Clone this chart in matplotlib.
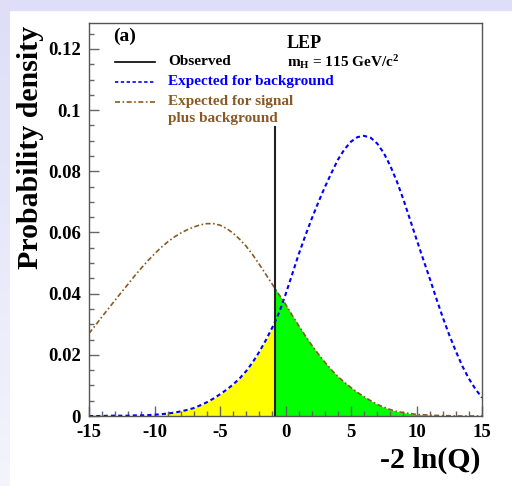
import matplotlib
matplotlib.use("Agg")
import matplotlib.pyplot as plt
from matplotlib.patches import Rectangle
import numpy as np

# -2 ln(Q) sample points, half-unit steps (observed value -0.8 included so the fills meet)
x_vals = [-15, -14.5, -14, -13.5, -13, -12.5, -12, -11.5, -11, -10.5,
          -10, -9.5, -9, -8.5, -8, -7.5, -7, -6.5, -6, -5.5,
          -5, -4.5, -4, -3.5, -3, -2.5, -2, -1.5, -1, -0.8, -0.5,
          0, 0.5, 1, 1.5, 2, 2.5, 3, 3.5, 4, 4.5,
          5, 5.5, 6, 6.5, 7, 7.5, 8, 8.5, 9, 9.5,
          10, 10.5, 11, 11.5, 12, 12.5, 13, 13.5, 14, 14.5, 15]

# expected for background
bkg = [0.0000, 0.0000, 0.0000, 0.0001, 0.0001, 0.0001, 0.0001, 0.0002, 0.0002, 0.0003,
       0.0004, 0.0006, 0.0008, 0.0011, 0.0015, 0.0020, 0.0026, 0.0035, 0.0045, 0.0057,
       0.0071, 0.0086, 0.0103, 0.0123, 0.0147, 0.0176, 0.0210, 0.0248, 0.0290, 0.0308, 0.0337,
       0.0397, 0.0462, 0.0528, 0.0588, 0.0645, 0.0698, 0.0748, 0.0794, 0.0838, 0.0872,
       0.0897, 0.0912, 0.0916, 0.0910, 0.0891, 0.0860, 0.0818, 0.0767, 0.0708, 0.0643,
       0.0578, 0.0514, 0.0451, 0.0386, 0.0323, 0.0265, 0.0212, 0.0163, 0.0122, 0.0088, 0.0060]

# expected for signal plus background
sig_bkg = [0.0270, 0.0297, 0.0325, 0.0352, 0.0379, 0.0406, 0.0432, 0.0459, 0.0484, 0.0508,
           0.0530, 0.0551, 0.0569, 0.0585, 0.0598, 0.0609, 0.0618, 0.0625, 0.0629, 0.0629,
           0.0624, 0.0613, 0.0598, 0.0578, 0.0555, 0.0527, 0.0496, 0.0463, 0.0430, 0.0417, 0.0397,
           0.0366, 0.0330, 0.0296, 0.0263, 0.0232, 0.0203, 0.0176, 0.0151, 0.0129, 0.0110,
           0.0093, 0.0077, 0.0063, 0.0050, 0.0038, 0.0029, 0.0021, 0.0015, 0.0011, 0.0008,
           0.0005, 0.0004, 0.0003, 0.0002, 0.0001, 0.0001, 0.0000, 0.0000, 0.0000, 0.0000, 0.0000]

observed = -0.8
observed_top = 0.0945

brown = "#8b5a24"
plt.rcParams["font.family"] = ["Liberation Serif", "DejaVu Serif"]
plt.rcParams["font.weight"] = "bold"
plt.rcParams["mathtext.fontset"] = "custom"
plt.rcParams["mathtext.rm"] = "Liberation Serif:bold"
plt.rcParams["mathtext.it"] = "Liberation Serif:bold"
plt.rcParams["mathtext.bf"] = "Liberation Serif:bold"

fig = plt.figure(figsize=(5.12, 4.86), dpi=100)
fig.patch.set_facecolor("white")

# lavender frame on top and left
fig.patches.append(Rectangle((0, 1 - 10 / 486), 1, 10 / 486, transform=fig.transFigure,
                             color="#dedef8", zorder=0))
gax = fig.add_axes([0, 0, 10 / 512, 1 - 10 / 486])
grad = np.linspace(0, 1, 100).reshape(-1, 1)
gax.imshow(grad, aspect="auto", cmap=matplotlib.colors.LinearSegmentedColormap.from_list(
    "lav", ["#dedef8", "#f4f4fd"]), extent=[0, 1, 0, 1])
gax.axis("off")

ax = fig.add_axes([89 / 512, 70 / 486, 393 / 512, 393 / 486])

x = np.array(x_vals)
b = np.array(bkg)
sb = np.array(sig_bkg)

ax.fill_between(x, 0, b, where=x <= observed, color="#ffff00", linewidth=0)
ax.fill_between(x, 0, sb, where=x >= observed, color="#00ff00", linewidth=0)
ax.plot(x, b, color="blue", lw=1.5, linestyle=(0, (2, 1.5)))
ax.plot(x, sb, color=brown, lw=1.2, linestyle=(0, (3, 1.5, 1, 1.5)))
ax.plot([observed, observed], [0, observed_top], color="#222222", lw=1.5)

ax.set_xlim(-15, 15)
ax.set_ylim(0, 0.1285)
ax.set_xticks([-15, -10, -5, 0, 5, 10, 15])
ax.set_xticklabels(["-15", "-10", "-5", "0", "5", "10", "15"])
ax.set_xticks(np.arange(-15, 16, 1), minor=True)
ax.set_yticks([0, 0.02, 0.04, 0.06, 0.08, 0.1, 0.12])
ax.set_yticklabels(["0", "0.02", "0.04", "0.06", "0.08", "0.1", "0.12"])
ax.set_yticks(np.arange(0, 0.1285, 0.005), minor=True)
ax.tick_params(which="both", direction="in", color="#666666", labelsize=13.5,
               top=False, right=False)
ax.tick_params(which="major", length=7, width=1)
ax.tick_params(which="minor", length=3.5, width=1)
ax.tick_params(axis="x", pad=6)
ax.tick_params(axis="y", pad=6)
for s in ax.spines.values():
    s.set_color("#555555")
    s.set_linewidth(1)

# legend drawn by hand, ROOT style
ax.plot([0.066, 0.168], [0.901, 0.901], transform=ax.transAxes, color="black", lw=1.2)
ax.plot([0.066, 0.168], [0.850, 0.850], transform=ax.transAxes, color="blue", lw=1.2,
        linestyle=(0, (2, 1.5)))
ax.plot([0.066, 0.168], [0.799, 0.799], transform=ax.transAxes, color=brown, lw=1.2,
        linestyle=(0, (3, 1.5, 1, 1.5)))
ax.text(0.201, 0.901, "Observed", transform=ax.transAxes, fontsize=11, va="center")
ax.text(0.201, 0.850, "Expected for background", transform=ax.transAxes, fontsize=11,
        va="center", color="blue")
ax.text(0.201, 0.799, "Expected for signal", transform=ax.transAxes, fontsize=11,
        va="center", color=brown)
ax.text(0.201, 0.756, "plus background", transform=ax.transAxes, fontsize=11,
        va="center", color=brown)
ax.text(0.061, 0.967, "(a)", transform=ax.transAxes, fontsize=14, va="center")
ax.text(0.504, 0.947, "LEP", transform=ax.transAxes, fontsize=13, va="center")
ax.text(0.504, 0.901, r"m$_\mathrm{H}$ = 115 GeV/c$^\mathrm{2}$", transform=ax.transAxes,
        fontsize=11, va="center")

fig.text(31 / 512, 1 - 147 / 486, "Probability density", rotation=90, fontsize=21.5,
         ha="center", va="center")
fig.text(481 / 512, 1 - 460 / 486, "-2 ln(Q)", fontsize=21.5, ha="right", va="center")

fig.savefig("out.png", dpi=100, facecolor=fig.get_facecolor())
